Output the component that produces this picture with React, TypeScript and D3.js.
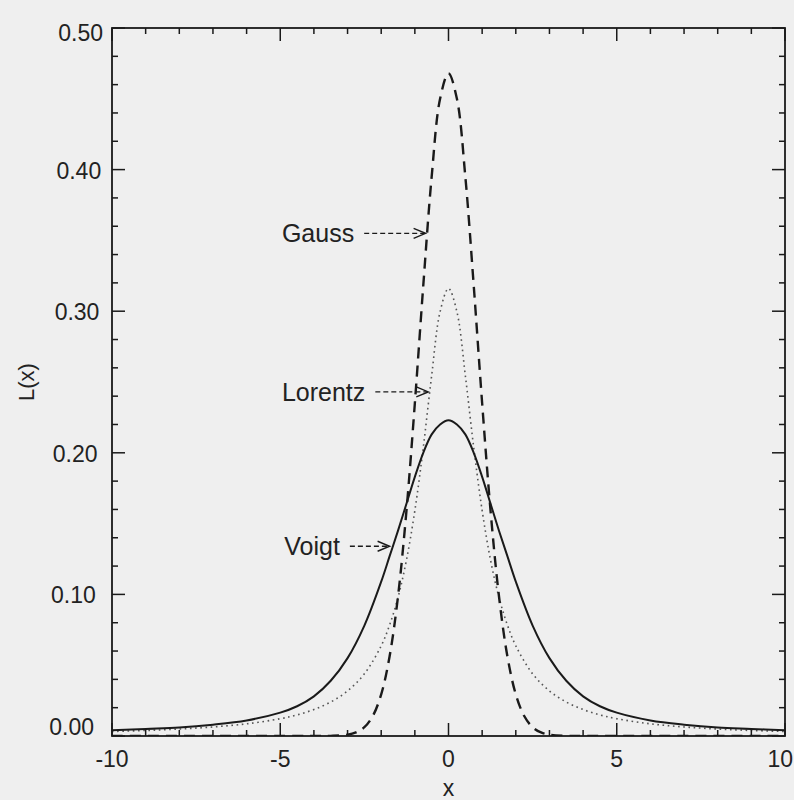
import React from "react";
import * as d3 from "d3";

// ---- data ----
const gaussX = [-10, -4, -3.5, -3, -2.75, -2.5, -2.25, -2, -1.75, -1.5, -1.25, -1, -0.75, -0.5, -0.25, 0, 0.25, 0.5, 0.75, 1, 1.25, 1.5, 1.75, 2, 2.25, 2.5, 2.75, 3, 3.5, 4, 10];
const gaussY = [0, 0, 0.0001, 0.0009, 0.0025, 0.0062, 0.0141, 0.0294, 0.0563, 0.0987, 0.159, 0.235, 0.318, 0.395, 0.45, 0.468, 0.45, 0.395, 0.318, 0.235, 0.159, 0.0987, 0.0563, 0.0294, 0.0141, 0.0062, 0.0025, 0.0009, 0.0001, 0, 0];

const lorentzX = [-10, -9, -8, -7, -6, -5, -4.5, -4, -3.5, -3, -2.5, -2, -1.75, -1.5, -1.25, -1, -0.75, -0.5, -0.25, 0, 0.25, 0.5, 0.75, 1, 1.25, 1.5, 1.75, 2, 2.5, 3, 3.5, 4, 4.5, 5, 6, 7, 8, 9, 10];
const lorentzY = [0.0032, 0.0039, 0.0049, 0.0064, 0.0086, 0.0122, 0.0149, 0.0187, 0.024, 0.0318, 0.0439, 0.0637, 0.0784, 0.0979, 0.1242, 0.1592, 0.2037, 0.2546, 0.2996, 0.316, 0.2996, 0.2546, 0.2037, 0.1592, 0.1242, 0.0979, 0.0784, 0.0637, 0.0439, 0.0318, 0.024, 0.0187, 0.0149, 0.0122, 0.0086, 0.0064, 0.0049, 0.0039, 0.0032];

const voigtX = [-10, -9, -8, -7, -6, -5, -4.5, -4, -3.5, -3, -2.5, -2, -1.75, -1.5, -1.25, -1, -0.75, -0.5, -0.25, 0, 0.25, 0.5, 0.75, 1, 1.25, 1.5, 1.75, 2, 2.5, 3, 3.5, 4, 4.5, 5, 6, 7, 8, 9, 10];
const voigtY = [0.004, 0.005, 0.006, 0.008, 0.011, 0.0165, 0.021, 0.028, 0.039, 0.055, 0.078, 0.109, 0.127, 0.145, 0.164, 0.183, 0.2, 0.213, 0.22, 0.223, 0.22, 0.213, 0.2, 0.183, 0.164, 0.145, 0.127, 0.109, 0.078, 0.055, 0.039, 0.028, 0.021, 0.0165, 0.011, 0.008, 0.006, 0.005, 0.004];

const xMajorTicks = [-10, -5, 0, 5, 10];
const xTickLabels = ["-10", "-5", "0", "5", "10"];
const yMajorTicks = [0, 0.1, 0.2, 0.3, 0.4, 0.5];
const yTickLabels = ["0.00", "0.10", "0.20", "0.30", "0.40", "0.50"];

const annLabels = ["Gauss", "Lorentz", "Voigt"];
const annTextX = [-4.95, -4.95, -4.88];
const annTipX = [-0.68, -0.6, -1.75];
const annTipY = [0.355, 0.243, 0.134];

const xTitle = "x";
const yTitle = "L(x)";

const FONT = "'Liberation Sans', Arial, Helvetica, sans-serif";

function measure(text: string, size: number): number {
  try {
    const c = document.createElement("canvas").getContext("2d");
    if (!c) return text.length * size * 0.55;
    c.font = `${size}px 'Liberation Sans', Arial, sans-serif`;
    return c.measureText(text).width;
  } catch (e) {
    return text.length * size * 0.55;
  }
}

export default function App() {
  const W = 794;
  const H = 800;
  const x = d3.scaleLinear().domain([-10, 10]).range([112, 785]);
  const y = d3.scaleLinear().domain([0, 0.5]).range([736, 28]);
  const [x0, x1] = x.range();
  const [yb, yt] = y.range();

  const line = d3
    .line<[number, number]>()
    .x((d) => x(d[0]))
    .y((d) => y(d[1]))
    .curve(d3.curveCatmullRom.alpha(0.5));

  const gauss = line(gaussX.map((v, i) => [v, gaussY[i]] as [number, number])) || "";
  const lorentz = line(lorentzX.map((v, i) => [v, lorentzY[i]] as [number, number])) || "";
  const voigt = line(voigtX.map((v, i) => [v, voigtY[i]] as [number, number])) || "";

  const xMinor = d3.range(-10, 10.001, 1);
  const yMinor = d3.range(0, 0.5001, 0.02);

  const ink = "#1a1a1a";
  const majorLen = 13;
  const minorLen = 6;

  return (
    <svg
      width={W}
      height={H}
      viewBox={`0 0 ${W} ${H}`}
      style={{ position: "absolute", left: 0, top: 0, display: "block", background: "#efefef" }}
    >
      <rect x={0} y={0} width={W} height={H} fill="#efefef" />
      <defs>
        <clipPath id="plotclip">
          <rect x={x0} y={yt} width={x1 - x0} height={yb - yt} />
        </clipPath>
      </defs>

      {/* curves */}
      <g clipPath="url(#plotclip)" fill="none">
        <path d={lorentz} stroke="#555" strokeWidth={1.6} strokeDasharray="1.6,3.6" />
        <path d={gauss} stroke={ink} strokeWidth={2.4} strokeDasharray="11,7" />
        <path d={voigt} stroke={ink} strokeWidth={2} />
      </g>

      {/* frame */}
      <rect x={x0} y={yt} width={x1 - x0} height={yb - yt} fill="none" stroke={ink} strokeWidth={1.8} />

      {/* ticks (inward on all four sides) */}
      <g stroke={ink} strokeWidth={1.5}>
        {xMinor.map((v) => {
          const len = xMajorTicks.includes(Math.round(v)) ? majorLen : minorLen;
          return (
            <g key={"xt" + v}>
              <line x1={x(v)} x2={x(v)} y1={yb} y2={yb - len} />
              <line x1={x(v)} x2={x(v)} y1={yt} y2={yt + len} />
            </g>
          );
        })}
        {yMinor.map((v) => {
          const isMajor = yMajorTicks.some((m) => Math.abs(m - v) < 1e-6);
          const len = isMajor ? majorLen : minorLen;
          return (
            <g key={"yt" + v.toFixed(2)}>
              <line x1={x0} x2={x0 + len} y1={y(v)} y2={y(v)} />
              <line x1={x1} x2={x1 - len} y1={y(v)} y2={y(v)} />
            </g>
          );
        })}
      </g>

      {/* tick labels */}
      <g fill="#222" fontFamily={FONT} fontSize={23}>
        {xMajorTicks.map((v, i) => {
          const last = i === xMajorTicks.length - 1;
          return (
            <text key={"xl" + v} x={last ? W - 1 : x(v)} y={767} textAnchor={last ? "end" : "middle"}>
              {xTickLabels[i]}
            </text>
          );
        })}
        {yMajorTicks.map((v, i) => (
          <text
            key={"yl" + v}
            x={94 + v * 18}
            y={y(v) + (v === 0 ? -9 : v === 0.5 ? 5 : 1)}
            textAnchor="end"
            dominantBaseline="central"
          >
            {yTickLabels[i]}
          </text>
        ))}
      </g>

      {/* axis titles */}
      <text x={x(0)} y={796} textAnchor="middle" fontFamily={FONT} fontSize={23} fill="#222">
        {xTitle}
      </text>
      <text
        transform={`translate(26, ${382}) rotate(-90)`}
        textAnchor="middle"
        dominantBaseline="central"
        fontFamily={FONT}
        fontSize={22}
        fill="#222"
      >
        {yTitle}
      </text>

      {/* annotations */}
      <g fontFamily={FONT} fontSize={25} fill="#222">
        {annLabels.map((lab, i) => {
          const tx = x(annTextX[i]);
          const ty = y(annTipY[i]);
          const w = measure(lab, 25);
          const sx = tx + w + 10;
          const ex = x(annTipX[i]);
          return (
            <g key={lab}>
              <text x={tx} y={ty} dominantBaseline="central">
                {lab}
              </text>
              <line x1={sx} x2={ex - 1} y1={ty} y2={ty} stroke={ink} strokeWidth={1.3} strokeDasharray="5,3" />
              <polyline
                points={`${ex - 12},${ty - 5} ${ex},${ty} ${ex - 12},${ty + 5}`}
                fill="none"
                stroke={ink}
                strokeWidth={1.4}
              />
            </g>
          );
        })}
      </g>
    </svg>
  );
}
